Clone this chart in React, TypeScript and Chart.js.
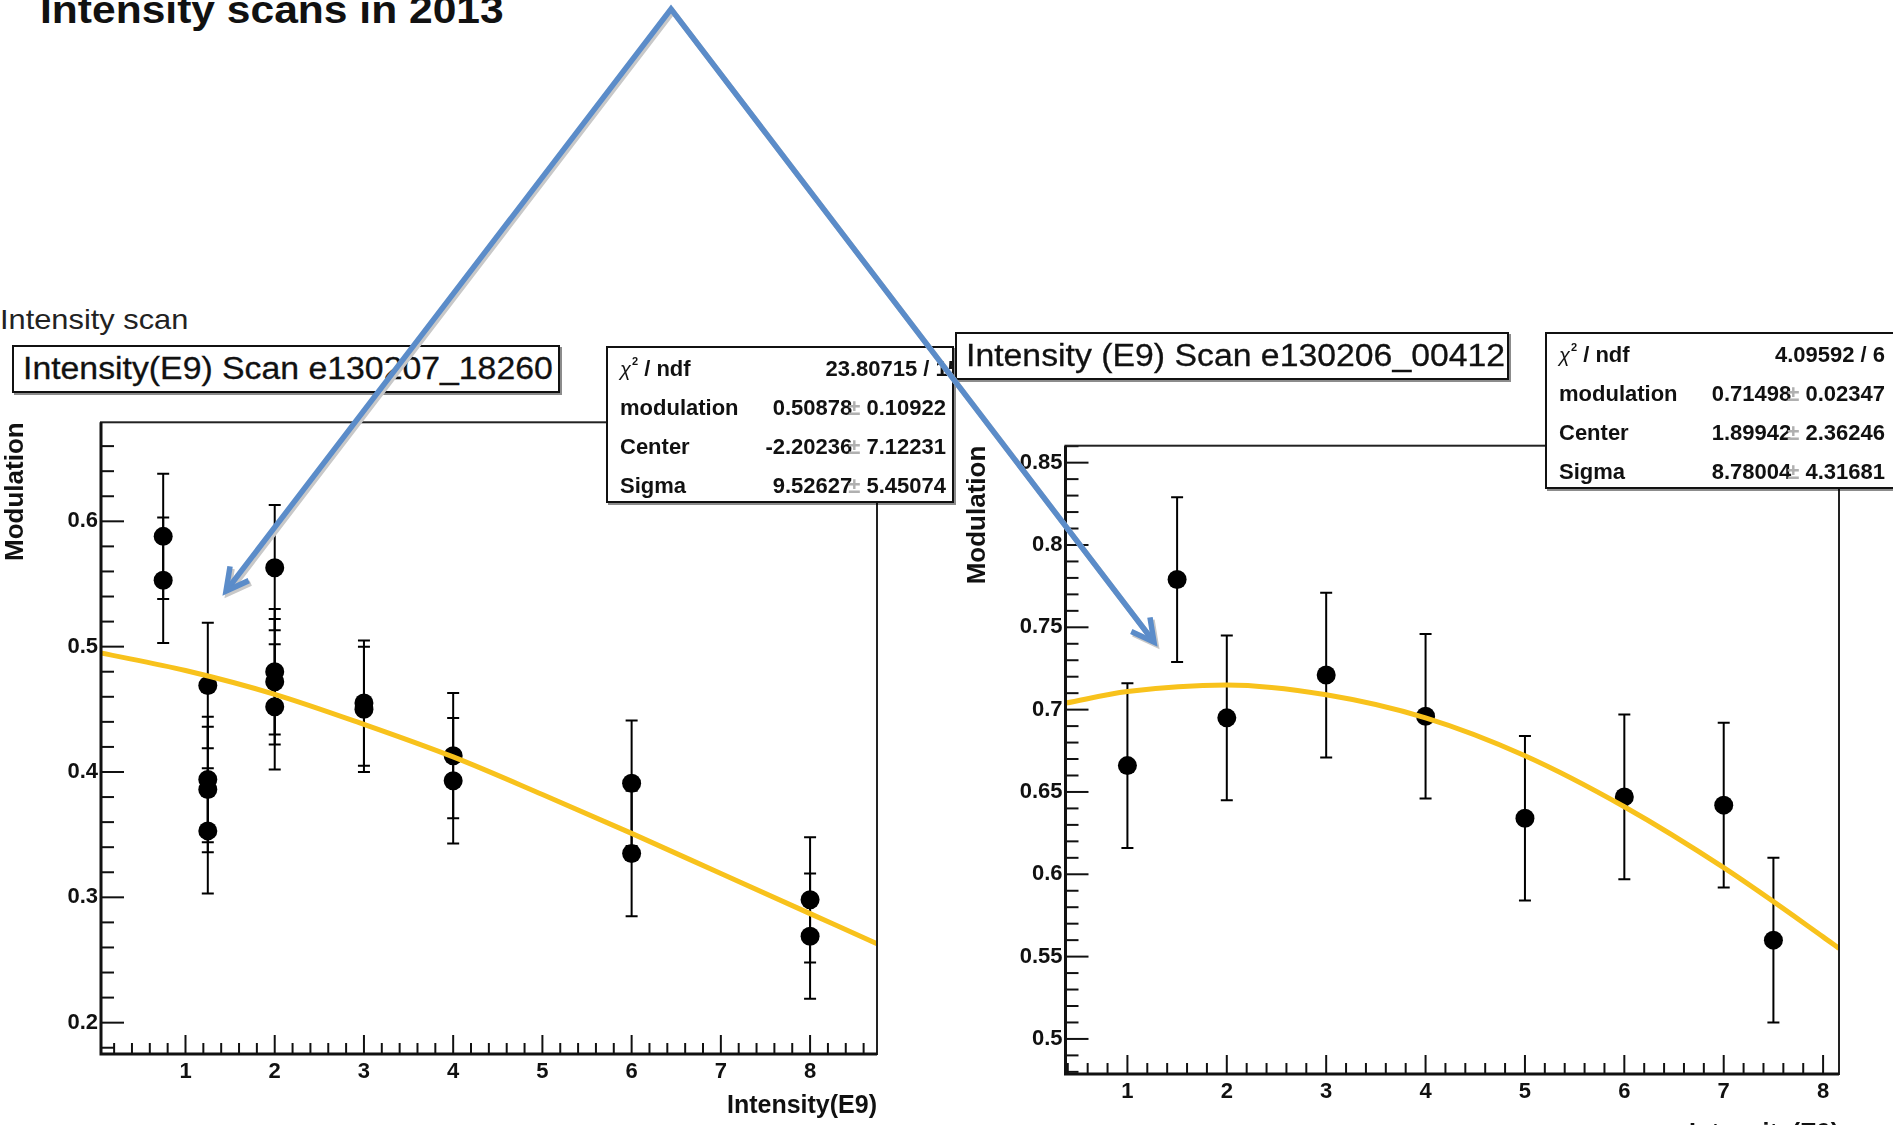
import React, { useEffect, useRef } from 'react';
import { Chart, registerables } from 'chart.js';

Chart.register(...registerables);
Chart.defaults.font.family = '"Liberation Sans", Arial, Helvetica, sans-serif';

// ---------- Left plot: Intensity(E9) Scan e130207_18260 ----------
const leftIntensity = [0.75, 0.75, 1.25, 1.25, 1.25, 1.25, 2, 2, 2, 2, 3, 3, 4, 4, 6, 6, 8, 8];
const leftModulation = [0.588, 0.553, 0.469, 0.394, 0.386, 0.353, 0.563, 0.48, 0.472, 0.452, 0.455, 0.45, 0.413, 0.393, 0.391, 0.335, 0.298, 0.269];
const leftError = [0.05, 0.05, 0.05, 0.05, 0.05, 0.05, 0.05, 0.05, 0.05, 0.05, 0.05, 0.05, 0.05, 0.05, 0.05, 0.05, 0.05, 0.05];
const leftFitX = [0.05, 1, 2, 3, 4, 5, 6, 7, 8, 8.75];
const leftFitY = [0.495, 0.481, 0.462, 0.438, 0.412, 0.382, 0.351, 0.319, 0.287, 0.263];
const leftYTicks = [0.2, 0.3, 0.4, 0.5, 0.6];
const leftChi = '23.80715 / 15';
const leftParamRows = [
  ['modulation', '0.50878', '0.10922'],
  ['Center', '-2.20236', '7.12231'],
  ['Sigma', '9.52627', '5.45074'],
];

// ---------- Right plot: Intensity (E9) Scan e130206_00412 ----------
const rightIntensity = [1, 1.5, 2, 3, 4, 5, 6, 7, 7.5];
const rightModulation = [0.666, 0.779, 0.695, 0.721, 0.696, 0.634, 0.647, 0.642, 0.56];
const rightError = [0.05, 0.05, 0.05, 0.05, 0.05, 0.05, 0.05, 0.05, 0.05];
const rightFitX = [0.38, 1, 2, 3, 4, 5, 6, 7, 8, 8.16];
const rightFitY = [0.704, 0.711, 0.715, 0.709, 0.695, 0.672, 0.641, 0.604, 0.562, 0.555];
const rightYTicks = [0.5, 0.55, 0.6, 0.65, 0.7, 0.75, 0.8, 0.85];
const rightChi = '4.09592 / 6';
const rightParamRows = [
  ['modulation', '0.71498', '0.02347'],
  ['Center', '1.89942', '2.36246'],
  ['Sigma', '8.78004', '4.31681'],
];

const xTicks = [1, 2, 3, 4, 5, 6, 7, 8];

const FIT_COLOR = '#f8c21c';
const FONT = '"Liberation Sans", Arial, Helvetica, sans-serif';

const rootPlugin = {
  id: 'rootFrame',
  beforeDatasetsDraw(chart: any) {
    const { ctx, scales } = chart;
    const xs = scales.x;
    const ys = scales.y;
    ctx.save();
    ctx.strokeStyle = '#000';
    ctx.lineWidth = 2;
    chart.data.datasets.forEach((ds: any) => {
      if (!ds.errors) return;
      ds.data.forEach((p: any, i: number) => {
        const e = ds.errors[i];
        const px = xs.getPixelForValue(p.x);
        const y1 = ys.getPixelForValue(p.y + e);
        const y2 = ys.getPixelForValue(p.y - e);
        ctx.beginPath();
        ctx.moveTo(px, y1);
        ctx.lineTo(px, y2);
        ctx.moveTo(px - 6, y1);
        ctx.lineTo(px + 6, y1);
        ctx.moveTo(px - 6, y2);
        ctx.lineTo(px + 6, y2);
        ctx.stroke();
      });
    });
    ctx.restore();
  },
  afterDraw(chart: any, _args: any, opts: any) {
    const { ctx, chartArea: a, scales } = chart;
    const xs = scales.x;
    const ys = scales.y;
    ctx.save();
    ctx.strokeStyle = '#111';
    ctx.lineWidth = 2;
    const drawTicks = (scale: any, step: number, every: number, isX: boolean) => {
      const k0 = Math.ceil(scale.min / step - 1e-6);
      const k1 = Math.floor(scale.max / step + 1e-6);
      for (let k = k0; k <= k1; k++) {
        const major = k % every === 0;
        const p = scale.getPixelForValue(k * step);
        ctx.beginPath();
        if (isX) {
          ctx.moveTo(p, a.bottom);
          ctx.lineTo(p, a.bottom - (major ? 19 : 11));
        } else {
          ctx.moveTo(a.left, p);
          ctx.lineTo(a.left + (major ? 23 : 13), p);
        }
        ctx.stroke();
      }
    };
    drawTicks(xs, opts.xStep, 5, true);
    drawTicks(ys, opts.yStep, 5, false);
    ctx.strokeStyle = '#222';
    ctx.lineWidth = 2;
    ctx.strokeRect(a.left, a.top, a.right - a.left, a.bottom - a.top);
    ctx.strokeStyle = '#111';
    ctx.lineWidth = 3;
    ctx.beginPath();
    ctx.moveTo(a.left, a.top);
    ctx.lineTo(a.left, a.bottom);
    ctx.lineTo(a.right, a.bottom);
    ctx.stroke();
    ctx.restore();
  },
};

function makeConfig(p: any): any {
  const fmt = (v: any) => String(parseFloat(Number(v).toFixed(2)));
  return {
    type: 'scatter',
    data: {
      datasets: [
        {
          type: 'line',
          data: p.fitX.map((x: number, i: number) => ({ x, y: p.fitY[i] })),
          borderColor: FIT_COLOR,
          borderWidth: 5,
          pointRadius: 0,
          fill: false,
          cubicInterpolationMode: 'monotone',
          order: 0,
        },
        {
          type: 'scatter',
          data: p.xs.map((x: number, i: number) => ({ x, y: p.ys[i] })),
          errors: p.errs,
          backgroundColor: '#000',
          borderWidth: 0,
          pointRadius: 9.5,
          pointHoverRadius: 9.5,
          order: 1,
        },
      ],
    },
    options: {
      responsive: false,
      animation: false,
      events: [],
      layout: { padding: p.padding },
      plugins: {
        legend: { display: false },
        tooltip: { enabled: false },
        rootFrame: { xStep: 0.2, yStep: p.yStep },
      },
      scales: {
        x: {
          type: 'linear',
          min: p.xMin,
          max: p.xMax,
          afterBuildTicks: (s: any) => {
            s.ticks = xTicks.map((v) => ({ value: v }));
          },
          afterFit: (s: any) => {
            s.height = p.xHeight;
          },
          grid: { display: false, drawTicks: false },
          border: { display: false },
          ticks: {
            padding: 5,
            autoSkip: false,
            maxRotation: 0,
            color: '#111',
            font: { size: 22, weight: 'bold', family: FONT },
            callback: fmt,
          },
          title: {
            display: true,
            text: 'Intensity(E9)',
            align: 'end',
            color: '#111',
            font: { size: 25, weight: 'bold', family: FONT },
            padding: { top: 0, bottom: p.xTitlePad },
          },
        },
        y: {
          type: 'linear',
          min: p.yMin,
          max: p.yMax,
          afterBuildTicks: (s: any) => {
            s.ticks = p.yTicks.map((v: number) => ({ value: v }));
          },
          afterFit: (s: any) => {
            s.width = p.yWidth;
          },
          grid: { display: false, drawTicks: false },
          border: { display: false },
          ticks: {
            padding: 3,
            autoSkip: false,
            color: '#111',
            font: { size: 22, weight: 'bold', family: FONT },
            callback: fmt,
          },
          title: {
            display: true,
            text: 'Modulation',
            align: 'end',
            color: '#111',
            font: { size: 26, weight: 'bold', family: FONT },
            padding: { top: 0, bottom: 0 },
          },
        },
      },
    },
    plugins: [rootPlugin],
  };
}

function ScanChart(props: { left: number; top: number; width: number; height: number; params: any }) {
  const ref = useRef<HTMLCanvasElement>(null);
  useEffect(() => {
    const chart = new Chart(ref.current as HTMLCanvasElement, makeConfig(props.params));
    return () => chart.destroy();
  }, []);
  return (
    <div style={{ position: 'absolute', left: props.left, top: props.top, width: props.width, height: props.height }}>
      <canvas ref={ref} width={props.width} height={props.height} />
    </div>
  );
}

function Stretch(props: { k: number; children: any; style?: any }) {
  return (
    <span
      style={{
        display: 'inline-block',
        transform: `scaleX(${props.k})`,
        transformOrigin: 'left center',
        whiteSpace: 'nowrap',
        ...props.style,
      }}
    >
      {props.children}
    </span>
  );
}

function TitleBox(props: { left: number; top: number; width: number; text: string }) {
  return (
    <div
      style={{
        position: 'absolute',
        left: props.left,
        top: props.top,
        width: props.width,
        height: 48,
        boxSizing: 'border-box',
        border: '2px solid #111',
        background: '#fff',
        boxShadow: '2px 2px 0 rgba(0,0,0,0.45)',
        paddingLeft: 9,
        fontSize: 31,
        lineHeight: '44px',
        color: '#111',
        whiteSpace: 'nowrap',
        WebkitTextStroke: '0.3px #111',
      }}
    >
      <Stretch k={1.09}>{props.text}</Stretch>
    </div>
  );
}

function StatRow(props: { label: any; value: any; valueStyle?: any }) {
  return (
    <div
      style={{
        height: 39,
        display: 'flex',
        alignItems: 'center',
        justifyContent: 'space-between',
        fontSize: 22,
        fontWeight: 'bold',
        whiteSpace: 'nowrap',
        color: '#111',
      }}
    >
      <span>{props.label}</span>
      <span style={props.valueStyle}>{props.value}</span>
    </div>
  );
}

function StatsBox(props: { left: number; top: number; width: number; padRight: number; chi: string; chiShift: number; rows: string[][] }) {
  return (
    <div
      style={{
        position: 'absolute',
        left: props.left,
        top: props.top,
        width: props.width,
        height: 157,
        boxSizing: 'border-box',
        border: '2px solid #111',
        background: '#fff',
        overflow: 'hidden',
        boxShadow: '2px 2px 0 rgba(0,0,0,0.45)',
        padding: `1px ${props.padRight}px 0 12px`,
      }}
    >
      <StatRow
        label={
          <span>
            <span style={{ fontWeight: 'normal', fontStyle: 'italic', fontSize: 20 }}>χ</span>
            <span style={{ fontSize: 11, position: 'relative', top: -11, marginLeft: 1 }}>2</span>
            <span> / ndf</span>
          </span>
        }
        value={props.chi}
        valueStyle={{ marginRight: props.chiShift }}
      />
      {props.rows.map((r) => (
        <StatRow
          key={r[0]}
          label={r[0]}
          value={
            <span>
              {r[1]}
              <span style={{ color: '#b0b0b0', marginLeft: -4 }}>±</span> {r[2]}
            </span>
          }
        />
      ))}
    </div>
  );
}

function arrowPath(from: number[], tip: number[]) {
  const dx = tip[0] - from[0];
  const dy = tip[1] - from[1];
  const L = Math.hypot(dx, dy);
  const bx = -dx / L;
  const by = -dy / L;
  const len = 25;
  const ang = 0.49;
  const w = (s: number) => [
    tip[0] + len * (bx * Math.cos(s * ang) - by * Math.sin(s * ang)),
    tip[1] + len * (bx * Math.sin(s * ang) + by * Math.cos(s * ang)),
  ];
  const w1 = w(1);
  const w2 = w(-1);
  return `M${w1[0]},${w1[1]} L${tip[0]},${tip[1]} L${w2[0]},${w2[1]}`;
}

function Arrows() {
  const apex = [671, 9];
  const tipL = [226, 591];
  const tipR = [1154, 642];
  const main = `M${tipL[0]},${tipL[1]} L${apex[0]},${apex[1]} L${tipR[0]},${tipR[1]}`;
  const heads = arrowPath(apex, tipL) + ' ' + arrowPath(apex, tipR);
  const common = { fill: 'none', strokeWidth: 5.5, strokeLinejoin: 'miter' as const, strokeLinecap: 'butt' as const };
  return (
    <svg width={1893} height={1125} style={{ position: 'absolute', left: 0, top: 0, pointerEvents: 'none' }}>
      <g transform="translate(2,2.5)" stroke="#c8c8c8" {...common}>
        <path d={main} />
        <path d={heads} />
      </g>
      <g stroke="#5b8cc9" {...common}>
        <path d={main} />
        <path d={heads} />
      </g>
    </svg>
  );
}

export default function App() {
  const leftParams = {
    xs: leftIntensity,
    ys: leftModulation,
    errs: leftError,
    fitX: leftFitX,
    fitY: leftFitY,
    xMin: 0.053,
    xMax: 8.75,
    yMin: 0.175,
    yMax: 0.679,
    yTicks: leftYTicks,
    yStep: 0.02,
    padding: { left: 0, top: 22.3, right: 83, bottom: 0 },
    yWidth: 101,
    xHeight: 71,
    xTitlePad: 4,
  };
  const rightParams = {
    xs: rightIntensity,
    ys: rightModulation,
    errs: rightError,
    fitX: rightFitX,
    fitY: rightFitY,
    xMin: 0.377,
    xMax: 8.16,
    yMin: 0.4787,
    yMax: 0.8603,
    yTicks: rightYTicks,
    yStep: 0.01,
    padding: { left: 0, top: 25.7, right: 54, bottom: 0 },
    yWidth: 103.5,
    xHeight: 76,
    xTitlePad: 1,
  };
  return (
    <div
      style={{
        position: 'absolute',
        left: 0,
        top: 0,
        width: 1893,
        height: 1125,
        overflow: 'hidden',
        background: '#fff',
        fontFamily: FONT,
        color: '#111',
      }}
    >
      <div style={{ position: 'absolute', left: 40, top: -9, fontSize: 38, lineHeight: '38px', fontWeight: 'bold' }}>
        <Stretch k={1.12}>Intensity scans in 2013</Stretch>
      </div>
      <div style={{ position: 'absolute', left: 0, top: 305, fontSize: 28, lineHeight: '30px', color: '#222' }}>
        <Stretch k={1.1}>Intensity scan</Stretch>
      </div>
      <ScanChart left={0} top={400} width={960} height={725} params={leftParams} />
      <ScanChart left={962} top={420} width={931} height={730} params={rightParams} />
      <TitleBox left={12} top={345} width={548} text="Intensity(E9) Scan e130207_18260" />
      <StatsBox left={606} top={346} width={348} padRight={6} chi={leftChi} chiShift={-14} rows={leftParamRows} />
      <TitleBox left={955} top={332} width={554} text="Intensity (E9) Scan e130206_00412" />
      <StatsBox left={1545} top={332} width={356} padRight={14} chi={rightChi} chiShift={0} rows={rightParamRows} />
      <Arrows />
    </div>
  );
}
